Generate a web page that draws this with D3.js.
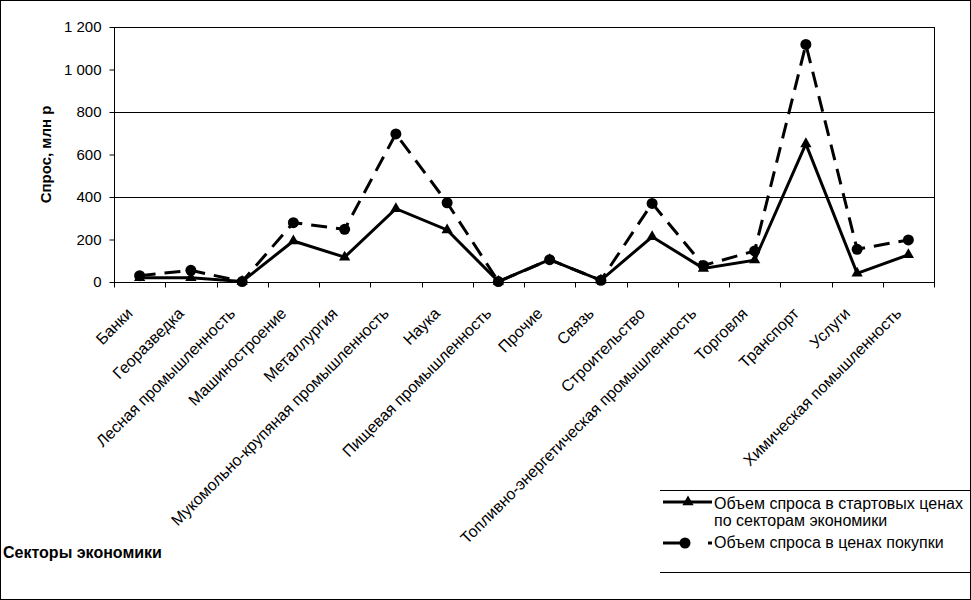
<!DOCTYPE html>
<html>
<head>
<meta charset="utf-8">
<script src="https://cdn.jsdelivr.net/npm/d3@7"></script>
<style>
  body { margin: 0; background: #fff; }
  svg { display: block; font-family: "Liberation Sans", Arial, sans-serif; }
</style>
</head>
<body>
<div class="canva"></div>
<script>
// sectors and the two demand series, mln rub
categories = ["Банки", "Георазведка", "Лесная промышленность", "Машиностроение", "Металлургия",
  "Мукомольно-крупяная промышленность", "Наука", "Пищевая промышленность", "Прочие", "Связь",
  "Строительство", "Топливно-энергетическая промышленность", "Торговля", "Транспорт", "Услуги",
  "Химическая помышленность"]
start_prices = [20, 20, 2, 193, 117, 345, 245, 2, 105, 8, 213, 64, 103, 650, 41, 128]
buy_prices = [30, 55, 2, 279, 248, 697, 373, 2, 105, 8, 370, 78, 146, 1118, 154, 198]
y_ticks = [0, 200, 400, 600, 800, 1000, 1200]
grid_ticks = [400, 800, 1200]
legend_start = ["Объем спроса в стартовых ценах", "по секторам экономики"]
legend_buy = "Объем спроса в ценах покупки"

W = 971
H = 600
// plot box (window.top is read-only, so no plain "top")
p_left = 114, p_right = 934, p_top = 27, p_bottom = 282

function render() {
  const svg = d3.select('.canva').append('svg')
      .attr('width', W)
      .attr('height', H)

  // outer frame
  svg.append('rect').attr('x', 0.5).attr('y', 0.5)
      .attr('width', W - 1).attr('height', H - 1)
      .attr('fill', 'none').attr('stroke', '#000')

  x = d3.scaleBand().domain(categories).range([p_left, p_right]).padding(0)
  y = d3.scaleLinear().domain([0, 1200]).range([p_bottom, p_top])
  cx = d => x(d) + x.bandwidth() / 2

  // gridlines
  svg.selectAll('.grid').data(grid_ticks).enter().append('line')
      .attr('x1', p_left).attr('x2', p_right)
      .attr('y1', d => Math.round(y(d)) + 0.5).attr('y2', d => Math.round(y(d)) + 0.5)
      .attr('stroke', '#000')
  // right border of plot
  svg.append('line').attr('x1', p_right + 0.5).attr('x2', p_right + 0.5)
      .attr('y1', p_top).attr('y2', p_bottom).attr('stroke', '#000')

  fmt = d => d3.format(',')(d).replace(',', ' ')
  const ya = svg.append('g').attr('transform', `translate(${p_left + 0.5},0)`)
      .call(d3.axisLeft(y).tickValues(y_ticks).tickSize(5).tickFormat(fmt))
  ya.select('.domain').attr('d', `M0,${p_top}V${p_bottom + 0.5}`)
  ya.selectAll('text').attr('font-size', 15).attr('font-family', 'Liberation Sans').attr('x', -13)

  const xa = svg.append('g').attr('transform', `translate(0,${p_bottom + 0.5})`)
  xa.append('line').attr('x1', p_left).attr('x2', p_right + 1).attr('stroke', '#000')
  xa.selectAll('.tk').data(d3.range(categories.length + 1)).enter().append('line')
      .attr('x1', i => Math.round(p_left + i * x.bandwidth()) + 0.5)
      .attr('x2', i => Math.round(p_left + i * x.bandwidth()) + 0.5)
      .attr('y1', 0).attr('y2', 5).attr('stroke', '#000')
  xa.selectAll('.lbl').data(categories).enter().append('text')
      .attr('transform', d => `translate(${cx(d) - 6},${32}) rotate(-45)`)
      .attr('text-anchor', 'end')
      .attr('font-size', 16)
      .text(d => d)

  // axis titles
  svg.append('text')
      .attr('transform', `translate(51,${(p_top + p_bottom) / 2}) rotate(-90)`)
      .attr('text-anchor', 'middle').attr('font-size', 15).attr('font-weight', 'bold')
      .text('Спрос, млн р')
  svg.append('text').attr('x', 3).attr('y', 558)
      .attr('font-size', 16).attr('font-weight', 'bold')
      .text('Секторы экономики')

  const line = d3.line().x((d, i) => cx(categories[i])).y(d => y(d))

  svg.append('path').datum(buy_prices).attr('d', line)
      .attr('fill', 'none').attr('stroke', '#000').attr('stroke-width', 3)
      .attr('stroke-dasharray', '16,9')
  svg.append('path').datum(start_prices).attr('d', line)
      .attr('fill', 'none').attr('stroke', '#000').attr('stroke-width', 3)

  tri = d3.symbol().type(d3.symbolTriangle).size(55)
  svg.selectAll('.tri').data(start_prices).enter().append('path')
      .attr('d', tri)
      .attr('transform', (d, i) => `translate(${cx(categories[i])},${y(d)})`)
      .attr('fill', '#000')
  svg.selectAll('.dot').data(buy_prices).enter().append('circle')
      .attr('cx', (d, i) => cx(categories[i]))
      .attr('cy', d => y(d))
      .attr('r', 5.5)
      .attr('fill', '#000')

  // legend
  const lg = svg.append('g')
  lg.append('line').attr('x1', 660).attr('x2', W).attr('y1', 490.5).attr('y2', 490.5).attr('stroke', '#000')
  lg.append('line').attr('x1', 660).attr('x2', W).attr('y1', 572.5).attr('y2', 572.5).attr('stroke', '#000')
  lg.append('line').attr('x1', 663).attr('x2', 712).attr('y1', 502).attr('y2', 502)
      .attr('stroke', '#000').attr('stroke-width', 3)
  lg.append('path').attr('d', tri).attr('transform', 'translate(688,502)').attr('fill', '#000')
  lg.append('line').attr('x1', 663).attr('x2', 712).attr('y1', 543).attr('y2', 543)
      .attr('stroke', '#000').attr('stroke-width', 3).attr('stroke-dasharray', '23,22')
  lg.append('circle').attr('cx', 685).attr('cy', 543).attr('r', 5.5).attr('fill', '#000')
  lg.selectAll('.lt').data(legend_start).enter().append('text')
      .attr('x', 714).attr('y', (d, i) => 509 + i * 17)
      .attr('font-size', 16).text(d => d)
  lg.append('text').attr('x', 714).attr('y', 548).attr('font-size', 16).text(legend_buy)
}
render()
</script>
</body>
</html>
